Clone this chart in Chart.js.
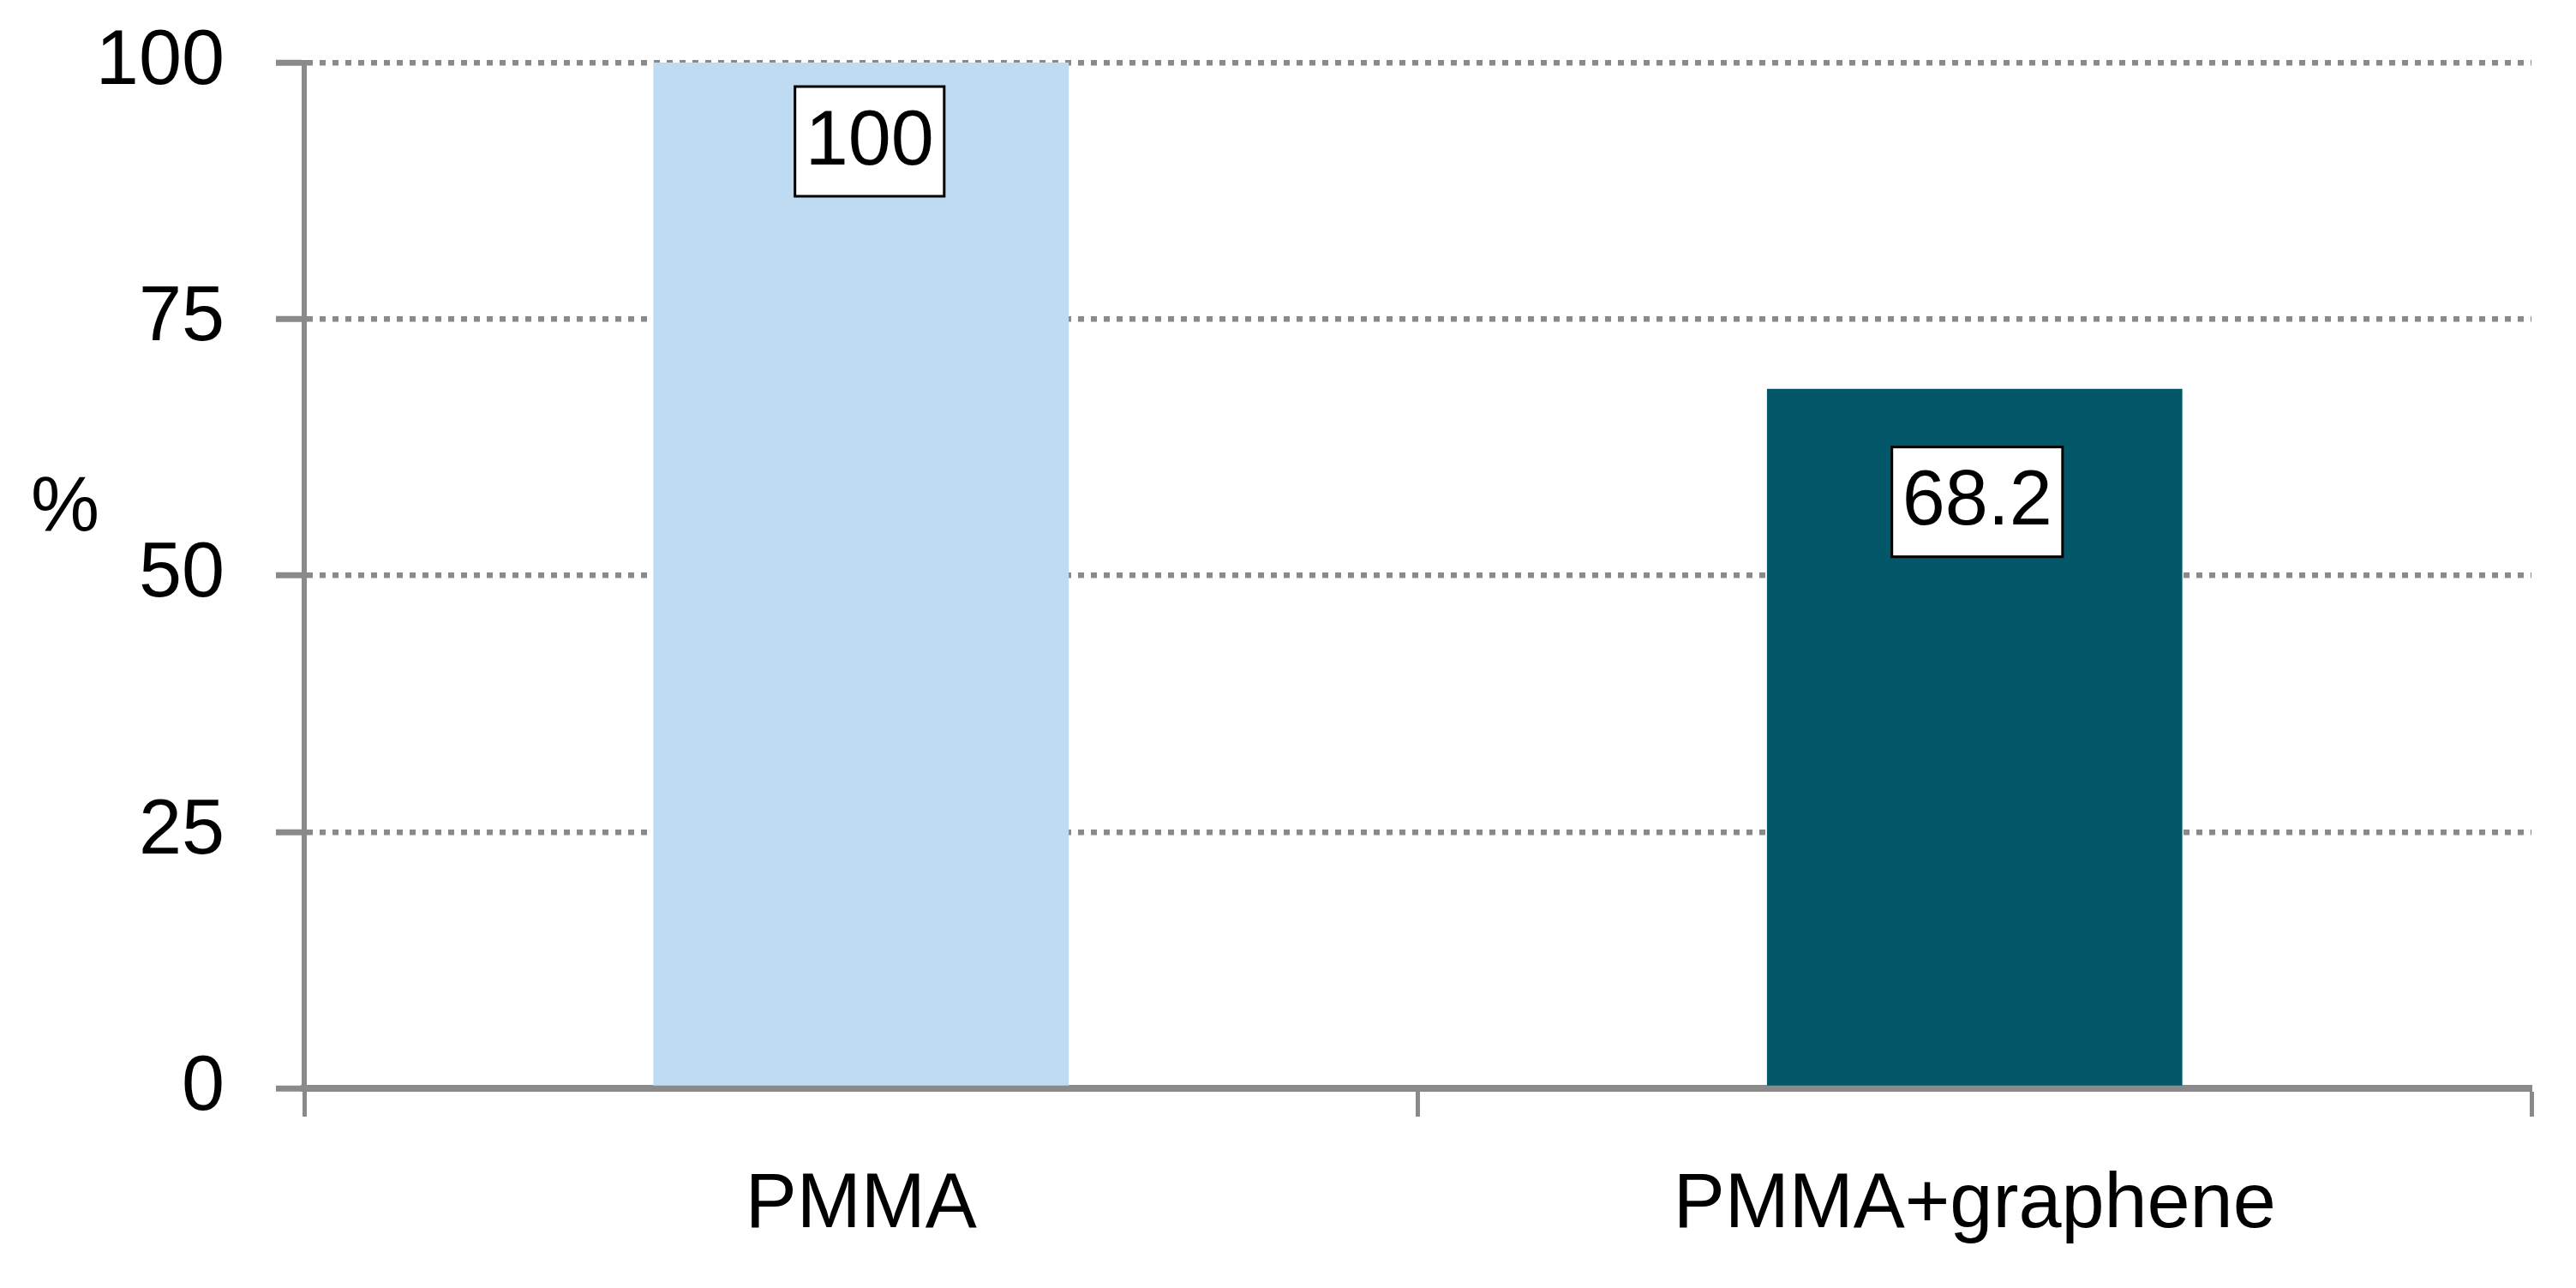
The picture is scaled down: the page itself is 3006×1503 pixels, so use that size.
<!DOCTYPE html>
<html>
<head>
<meta charset="utf-8">
<script src="https://cdn.jsdelivr.net/npm/chart.js@4.4.1/dist/chart.umd.min.js"></script>
<style>
  html, body { margin: 0; padding: 0; background: #fff; }
  #wrap { width: 3006px; height: 1503px; }
</style>
</head>
<body>
<div id="wrap"><canvas id="chart" width="3006" height="1503"></canvas></div>
<script>
// Datos
const categories = ['PMMA', 'PMMA+graphene'];
const values = [100, 68.2];
const barColors = ['#BEDBF2', '#025868'];
const yTicks = [0, 25, 50, 75, 100];
const yTitle = '%';

const FONT = "'Liberation Sans', Arial, Helvetica, sans-serif";
const GRAY = '#8a8a8a';

// Etiquetas de valor en caja blanca
const boxLabels = {
    id: 'boxLabels',
    afterDatasetsDraw(chart, args, opts) {
        const ctx = chart.ctx;
        const meta = chart.getDatasetMeta(0);
        ctx.save();
        ctx.font = '90px ' + FONT;
        ctx.textAlign = 'center';
        ctx.textBaseline = 'middle';
        meta.data.forEach((bar, i) => {
            const txt = String(values[i]);
            const w = ctx.measureText(txt).width + 24;
            const h = 128;
            const cx = bar.x + (opts.dx[i] || 0);
            const cy = bar.y + opts.dy[i];
            ctx.fillStyle = '#fff';
            ctx.fillRect(cx - w / 2, cy - h / 2, w, h);
            ctx.lineWidth = 3;
            ctx.strokeStyle = '#000';
            ctx.strokeRect(cx - w / 2, cy - h / 2, w, h);
            ctx.fillStyle = '#000';
            ctx.fillText(txt, cx, cy + 2);
        });
        ctx.restore();
    }
};

// Título del eje Y (horizontal)
const yTitlePlugin = {
    id: 'yTitlePlugin',
    afterDraw(chart) {
        const ctx = chart.ctx;
        const y = chart.scales.y;
        ctx.save();
        ctx.font = '90px ' + FONT;
        ctx.fillStyle = '#000';
        ctx.textAlign = 'left';
        ctx.textBaseline = 'middle';
        ctx.fillText(yTitle, 36, y.getPixelForValue(56.5));
        ctx.restore();
    }
};

const ctx = document.getElementById('chart').getContext('2d');
new Chart(ctx, {
    type: 'bar',
    data: {
        labels: categories,
        datasets: [{
            data: values,
            backgroundColor: barColors,
            borderWidth: 0,
            barPercentage: 0.373,
            categoryPercentage: 1
        }]
    },
    options: {
        responsive: false,
        animation: false,
        devicePixelRatio: 1,
        layout: { padding: { top: 73, right: 52, bottom: 0, left: 0 } },
        plugins: {
            legend: { display: false },
            tooltip: { enabled: false },
            boxLabels: { dy: [92, 132], dx: [10, 3] }
        },
        scales: {
            x: {
                offset: true,
                grid: {
                    offset: true,
                    drawOnChartArea: false,
                    tickLength: 33,
                    tickWidth: 5,
                    tickColor: GRAY
                },
                border: { display: true, color: GRAY, width: 8 },
                ticks: {
                    color: '#000',
                    padding: 50,
                    font: { family: FONT, size: 90 }
                },
                afterFit(scale) {
                    scale.height = 233;
                    scale.paddingLeft = 0;
                    scale.paddingRight = 0;
                }
            },
            y: {
                min: 0,
                max: 100,
                afterBuildTicks(scale) { scale.ticks = yTicks.map(v => ({ value: v })); },
                grid: {
                    color: GRAY,
                    lineWidth: 6.5,
                    tickLength: 33,
                    tickWidth: 7,
                    tickColor: GRAY,
                    tickBorderDash: []
                },
                border: { display: true, color: GRAY, width: 6, dash: [7, 8] },
                ticks: {
                    color: '#000',
                    padding: 60,
                    font: { family: FONT, size: 90 }
                },
                afterFit(scale) {
                    scale.width = 355;
                    scale.paddingTop = 0;
                    scale.paddingBottom = 0;
                }
            }
        }
    },
    plugins: [boxLabels, yTitlePlugin]
});
</script>
</body>
</html>
